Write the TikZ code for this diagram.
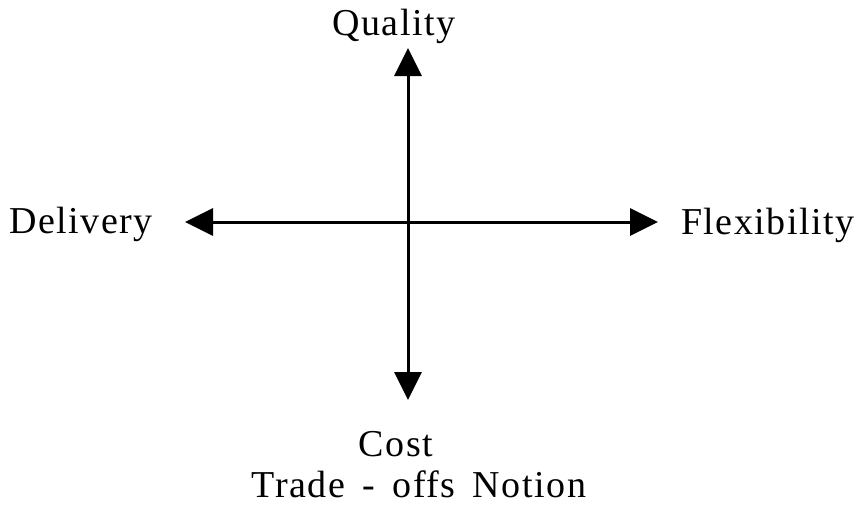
\documentclass[tikz,border=0pt]{standalone}
\usepackage{fontspec}
\setmainfont[LetterSpace=4]{Liberation Serif}
\usepackage{tikz}
\usetikzlibrary{arrows.meta, positioning}
\tikzset{
  axislabel/.style={inner sep=0pt, font=\fontsize{38}{42}\selectfont, anchor=base},
  axisarrow/.style={{Triangle[length=28pt, width=27pt]}-{Triangle[length=28pt, width=27pt]},
                    line width=3pt, draw=black}
}

\begin{document}
\begin{tikzpicture}[x=1pt, y=-1pt]
  \useasboundingbox (0,0) rectangle (858,509);
  \coordinate (qtip) at (408,48);
  \coordinate (ctip) at (408,400);
  \coordinate (dtip) at (185,222);
  \coordinate (ftip) at (658,222);

  \node[axislabel]                    (quality)  at (394,35)  {Quality};
  \node[axislabel, anchor=base west]  (delivery) at (9,233)   {Delivery};
  \node[axislabel, anchor=base west]  (flex)     at (681,234) {Flexibility};
  \node[axislabel]                    (cost)     at (396,456) {Cost};
  \node[axislabel]                    (caption)  at (419,497) {Trade\ \,-\ \,offs\ \,Notion};

  \draw[axisarrow] (qtip) -- (ctip);
  \draw[axisarrow] (dtip) -- (ftip);
\end{tikzpicture}
\end{document}
